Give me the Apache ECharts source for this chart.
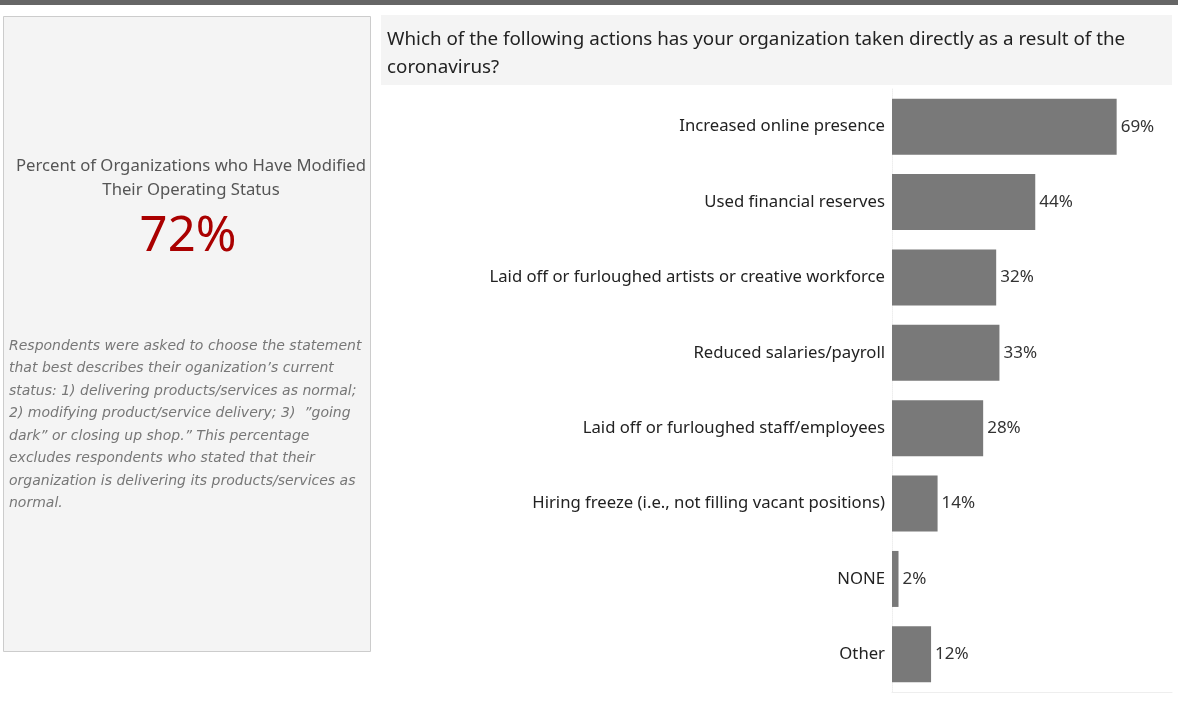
<!DOCTYPE html>
<html>
<head>
<meta charset="utf-8">
<script src="https://cdn.jsdelivr.net/npm/echarts@6/dist/echarts.min.js"></script>
<style>
  html, body { margin: 0; padding: 0; background: #fff; }
  #chart { width: 1178px; height: 701px; }
</style>
</head>
<body>
<div id="chart"></div>
<script>
// Survey answers, top to bottom as in the picture
const actions = [
    'Increased online presence',
    'Used financial reserves',
    'Laid off or furloughed artists or creative workforce',
    'Reduced salaries/payroll',
    'Laid off or furloughed staff/employees',
    'Hiring freeze (i.e., not filling vacant positions)',
    'NONE',
    'Other'
];
const percentTaken = [69, 44, 32, 33, 28, 14, 2, 12];

const kpiTitle = ['Percent of Organizations who Have Modified', 'Their Operating Status'];
const kpiValue = '72%';
const noteLines = [
    'Respondents were asked to choose the statement',
    'that best describes their oganization\u2019s current',
    'status: 1) delivering products/services as normal;',
    '2) modifying product/service delivery; 3)  \u201dgoing',
    'dark\u201d or closing up shop.\u201d This percentage',
    'excludes respondents who stated that their',
    'organization is delivering its products/services as',
    'normal.'
];
const chartTitle = ['Which of the following actions has your organization taken directly as a result of the', 'coronavirus?'];

const chart = echarts.init(document.getElementById('chart'));
const font = '"Noto Sans", "Open Sans", sans-serif';

const option = {
    animation: false,
    textStyle: { fontFamily: font },
    graphic: [
        // top dark strip
        { type: 'rect', shape: { x: 0, y: 0, width: 1178, height: 5 }, style: { fill: '#666666' } },
        // left KPI panel
        { type: 'rect', shape: { x: 3.5, y: 16.5, width: 367, height: 635 },
          style: { fill: '#f4f4f4', stroke: '#cccccc', lineWidth: 1 } },
        { type: 'text', x: 191, y: 178,
          style: { text: kpiTitle.join('\n'), fill: '#555555', font: '16.7px ' + font,
                   align: 'center', verticalAlign: 'middle', lineHeight: 24 } },
        { type: 'text', x: 188, y: 237,
          style: { text: kpiValue, fill: '#aa0000', font: '49px ' + font,
                   align: 'center', verticalAlign: 'middle' } },
        { type: 'text', x: 9, y: 335,
          style: { text: noteLines.join('\n'), fill: '#777777', font: 'oblique 14px "DejaVu Sans", sans-serif',
                   align: 'left', verticalAlign: 'top', lineHeight: 22.5 } },
        // chart title band
        { type: 'rect', shape: { x: 381, y: 15, width: 791, height: 70 }, style: { fill: '#f4f4f4' } },
        { type: 'text', x: 387, y: 26,
          style: { text: chartTitle.join('\n'), fill: '#222222', font: '18.8px ' + font,
                   align: 'left', verticalAlign: 'top', lineHeight: 28 } }
    ],
    grid: { left: 892, right: 6, top: 89, bottom: 9 },
    xAxis: {
        type: 'value',
        min: 0,
        max: 86,
        show: true,
        axisLabel: { show: false },
        axisTick: { show: false },
        splitLine: { show: false },
        axisLine: { show: true, lineStyle: { color: '#eeeeee' } }
    },
    yAxis: {
        type: 'category',
        inverse: true,
        data: actions,
        axisTick: { show: false },
        axisLine: { show: true, lineStyle: { color: '#eeeeee', type: 'dotted' } },
        axisLabel: { color: '#222222', fontSize: 16.7, margin: 7, fontFamily: font }
    },
    series: [{
        type: 'bar',
        data: percentTaken,
        barWidth: 56,
        itemStyle: { color: '#797979' },
        label: {
            show: true,
            position: 'right',
            distance: 4,
            color: '#333333',
            fontSize: 17,
            fontFamily: font,
            formatter: p => p.value + '%'
        }
    }]
};

chart.setOption(option);
</script>
</body>
</html>
